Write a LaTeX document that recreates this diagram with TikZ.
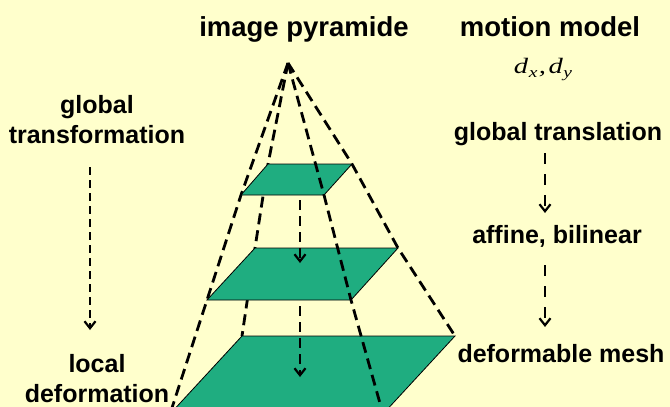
\documentclass[tikz,border=0pt]{standalone}
\usepackage{fontspec}
\setmainfont{Liberation Sans}
\newfontfamily\timesfont{Liberation Serif}
\usetikzlibrary{arrows.meta}
\definecolor{bgyellow}{RGB}{255,255,204}
\definecolor{planegreen}{RGB}{31,173,128}

\begin{document}
\begin{tikzpicture}[x=1pt, y=-1pt,
    % styles
    txt/.style={font=\fontsize{25}{30}\selectfont\bfseries, inner sep=0pt, anchor=base},
    head/.style={txt, font=\fontsize{27.5}{33}\selectfont\bfseries},
    edge/.style={line width=2.8pt, dash pattern=on 11pt off 6pt},
    flow/.style={line width=2.8pt, dash pattern=on 10pt off 6pt,
        -{Straight Barb[length=7pt, width=11pt, line width=2.2pt]}},
    plane/.style={fill=planegreen, draw=black, line width=0.8pt}
]

    % --- background ---
    \fill[bgyellow] (0,0) rectangle (670,407);
    \clip (0,0) rectangle (670,407);

    % --- pyramid corners (pixel coordinates) ---
    \coordinate (apex) at (288,63);
    % top level
    \coordinate (t_tl) at (268,164);
    \coordinate (t_tr) at (352,164);
    \coordinate (t_br) at (324,195);
    \coordinate (t_bl) at (241,195);
    % middle level
    \coordinate (m_tl) at (255,248);
    \coordinate (m_tr) at (398,248);
    \coordinate (m_br) at (351,300);
    \coordinate (m_bl) at (207,300);
    % bottom level
    \coordinate (b_tl) at (242,336);
    \coordinate (b_tr) at (455,336);
    \coordinate (b_br) at (383,414);
    \coordinate (b_bl) at (170,414);

    % --- hidden edges (behind the levels) ---
    \draw[edge] (apex) -- (t_bl) -- (m_bl) -- (b_bl);
    \draw[edge] (apex) -- (t_tl) -- (m_tl) -- (b_tl);
    \draw[edge] (apex) -- (t_tr) -- (m_tr) -- (b_tr);

    % --- levels ---
    \filldraw[plane] (t_tl) -- (t_tr) -- (t_br) -- (t_bl) -- cycle;
    \filldraw[plane] (m_tl) -- (m_tr) -- (m_br) -- (m_bl) -- cycle;
    \filldraw[plane] (b_tl) -- (b_tr) -- (b_br) -- (b_bl) -- cycle;

    % --- front edge ---
    \draw[edge] (apex) -- (t_br) -- (m_br) -- (b_br);

    % --- arrows between levels ---
    \coordinate (c1) at (300,200);
    \coordinate (c2) at (300,263);
    \coordinate (c3) at (300,306);
    \coordinate (c4) at (300,377);
    \draw[flow] (c1) -- (c2);
    \draw[flow] (c3) -- (c4);

    % --- titles ---
    \node[head] (pyramid) at (304,36) {image pyramide};
    \node[head] (motion) at (550,36) {motion model};
    \node[inner sep=0pt, anchor=base] (dxdy) at (543,73)
        {\timesfont\itshape\fontsize{22}{22}\selectfont\scalebox{1.3}[1]{%
         d\kern0.5pt\raisebox{-4.5pt}{\fontsize{15}{15}\selectfont x}\kern1pt,\kern2pt
         d\kern0.5pt\raisebox{-4.5pt}{\fontsize{15}{15}\selectfont y}}};

    % --- left column ---
    \node[txt, anchor=north, align=center] (globaltf) at (97,95) {global\\transformation};
    \node[txt, anchor=north, align=center] (localdef) at (97,354) {local\\deformation};
    \coordinate (l1) at (90,167);
    \coordinate (l2) at (90,330);
    \draw[flow, dash pattern=on 8pt off 5pt] (l1) -- (l2);

    % --- right column ---
    \node[txt] (globaltr) at (558,140) {global translation};
    \node[txt] (affine) at (557,243) {affine, bilinear};
    \node[txt] (mesh) at (561,362) {deformable mesh};
    \coordinate (r1) at (545,153);
    \coordinate (r2) at (545,213);
    \coordinate (r3) at (545,265);
    \coordinate (r4) at (545,327);
    \draw[flow, dash pattern=on 11pt off 10pt] (r1) -- (r2);
    \draw[flow, dash pattern=on 11pt off 10pt] (r3) -- (r4);

\end{tikzpicture}
\end{document}
